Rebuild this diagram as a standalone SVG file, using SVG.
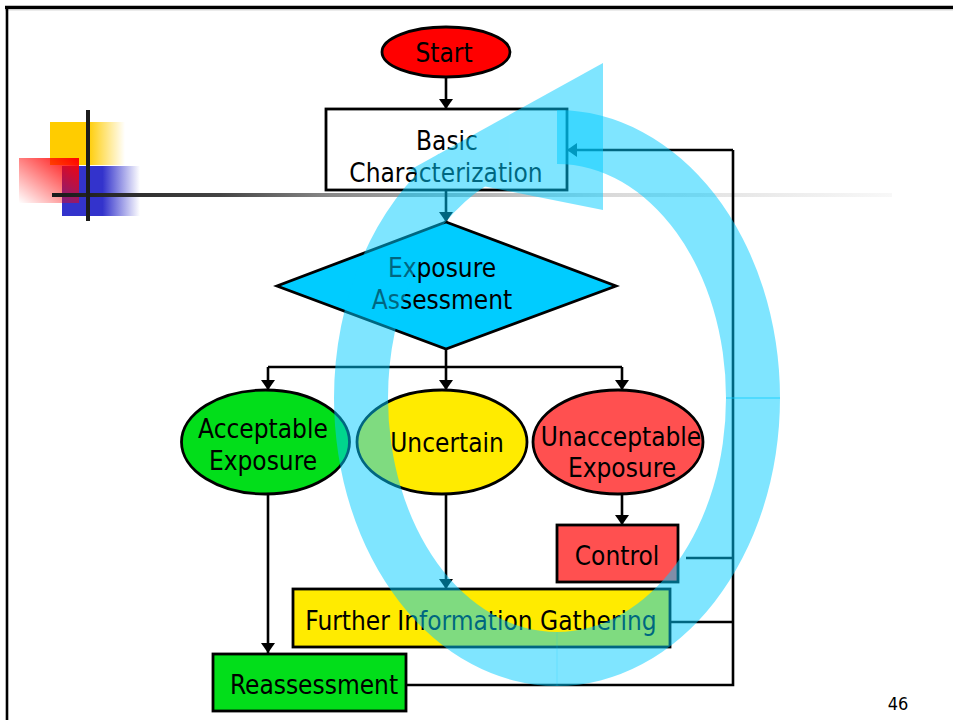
<svg xmlns="http://www.w3.org/2000/svg" width="953" height="720" viewBox="0 0 953 720">
<defs>
<style>
.t{font-family:"DejaVu Sans Condensed","DejaVu Sans","Liberation Sans",sans-serif;font-stretch:condensed;font-size:26px;fill:#000;text-anchor:middle}
.n{stroke:#000;stroke-width:2.8}
.c{fill:none;stroke:#000;stroke-width:2.6}
.a{marker-end:url(#ah)}
</style>
<marker id="ah" viewBox="0 0 10 14" refX="10" refY="7" markerWidth="11" markerHeight="14" markerUnits="userSpaceOnUse" orient="auto">
<path d="M0,0 L10,7 L0,14 z" fill="#000"/>
</marker>
<linearGradient id="gy" x1="0" y1="0" x2="1" y2="0">
<stop offset="0" stop-color="#FFCC00"/><stop offset="0.5" stop-color="#FFCC00"/><stop offset="1" stop-color="#FFCC00" stop-opacity="0"/>
</linearGradient>
<linearGradient id="gb" x1="0" y1="0" x2="1" y2="0">
<stop offset="0" stop-color="#3333CC"/><stop offset="0.52" stop-color="#3333CC"/><stop offset="1" stop-color="#3333CC" stop-opacity="0"/>
</linearGradient>
<linearGradient id="gr" x1="1" y1="0" x2="0" y2="1">
<stop offset="0" stop-color="#FF0000"/><stop offset="1" stop-color="#FF0000" stop-opacity="0"/>
</linearGradient>
<linearGradient id="gl" x1="0" y1="0" x2="1" y2="0">
<stop offset="0" stop-color="#1a1a1a"/><stop offset="0.2" stop-color="#444"/><stop offset="0.33" stop-color="#888"/><stop offset="0.65" stop-color="#d8d8d8"/><stop offset="1" stop-color="#f8f8f8"/>
</linearGradient>
</defs>
<rect width="953" height="720" fill="#fff"/>
<g id="frame">
<line x1="5" y1="7.3" x2="953" y2="7.3" stroke="#000" stroke-width="3.2"/>
<line x1="5" y1="9.8" x2="953" y2="9.8" stroke="#bbb" stroke-width="1"/>
<line x1="7" y1="6" x2="7" y2="720" stroke="#000" stroke-width="2.6"/>
</g>
<g id="decoration">
<rect x="50" y="122" width="75" height="43" fill="url(#gy)"/>
<rect x="62" y="166" width="78" height="50" fill="url(#gb)"/>
<rect x="19" y="158" width="60" height="45" fill="url(#gr)"/>
<rect x="52" y="193" width="840" height="4" fill="url(#gl)"/>
<rect x="86" y="110" width="4" height="111" fill="#1c1c1c"/>
</g>
<g id="connectors">
<path class="c a" d="M446,77 L446,109"/>
<path class="c a" d="M446,190 L446,222"/>
<path class="c" d="M446,349 L446,367 M268,367 L622,367"/>
<path class="c a" d="M268,367 L268,390"/>
<path class="c a" d="M446,367 L446,390"/>
<path class="c a" d="M622,367 L622,390"/>
<path class="c a" d="M268,494 L268,653"/>
<path class="c a" d="M446,494 L446,589"/>
<path class="c a" d="M622,494 L622,525"/>
<path class="c" d="M686,558 L733,558 M670,622 L733,622 M406,685 L733,685 L733,150"/>
<path class="c a" d="M733,150 L567,150"/>
</g>
<g id="start">
<ellipse class="n" cx="446" cy="52" rx="64" ry="25" fill="#FF0000"/>
<text class="t" x="444" y="62">Start</text>
</g>
<g id="basic">
<rect class="n" x="326" y="109" width="241" height="81" fill="#fff"/>
<text class="t" x="447" y="150">Basic</text>
<text class="t" x="446" y="182">Characterization</text>
</g>
<g id="exposure">
<polygon class="n" points="446,222 616,286 446,349 277,286" fill="#00CCFF"/>
<text class="t" x="442" y="277">Exposure</text>
<text class="t" x="442" y="309">Assessment</text>
</g>
<g id="acceptable">
<ellipse class="n" cx="265.5" cy="442" rx="84" ry="52" fill="#02DE1A"/>
<text class="t" x="263" y="438">Acceptable</text>
<text class="t" x="263" y="470">Exposure</text>
</g>
<g id="uncertain">
<ellipse class="n" cx="442" cy="442" rx="85" ry="52" fill="#FFEB00"/>
<text class="t" x="447" y="452">Uncertain</text>
</g>
<g id="unacceptable">
<ellipse class="n" cx="618" cy="442" rx="85" ry="52" fill="#FF5050"/>
<text class="t" x="621" y="446">Unacceptable</text>
<text class="t" x="622" y="477">Exposure</text>
</g>
<g id="control">
<rect class="n" x="557" y="525" width="121" height="57" fill="#FF5050"/>
<text class="t" x="617" y="565">Control</text>
</g>
<g id="further">
<rect class="n" x="293" y="589" width="377" height="58" fill="#FFEB00"/>
<text class="t" x="481" y="630">Further Information Gathering</text>
</g>
<g id="reassessment">
<rect class="n" x="213" y="654" width="193" height="57" fill="#02DE1A"/>
<text class="t" x="314" y="694">Reassessment</text>
</g>
<g id="pagenum">
<text x="898" y="710" style="font-family:'DejaVu Sans Condensed','DejaVu Sans','Liberation Sans',sans-serif;font-stretch:condensed;font-size:18px;fill:#000;text-anchor:middle">46</text>
</g>
<g id="cycle-arrow">
<g opacity="0.5" fill="#00CCFF">
<path d="M557,110 A223,288 0 1,1 334,398 L388,398 A169,234 0 1,0 557,164 Z"/>
</g>
<g opacity="0.5" fill="#00CCFF">
<path d="M334,398 A223,288 0 0,1 438.8,153.8 L485.6,185.9 A169,234 0 0,0 388,398 Z"/>
<polygon points="603,63 603,210 408,171"/>
</g>
<line x1="726" y1="398" x2="780" y2="398" stroke="#00CCFF" stroke-opacity="0.5" stroke-width="1.5"/>
<line x1="557" y1="632" x2="557" y2="686" stroke="#00CCFF" stroke-opacity="0.2" stroke-width="1"/>
</g>
</svg>
